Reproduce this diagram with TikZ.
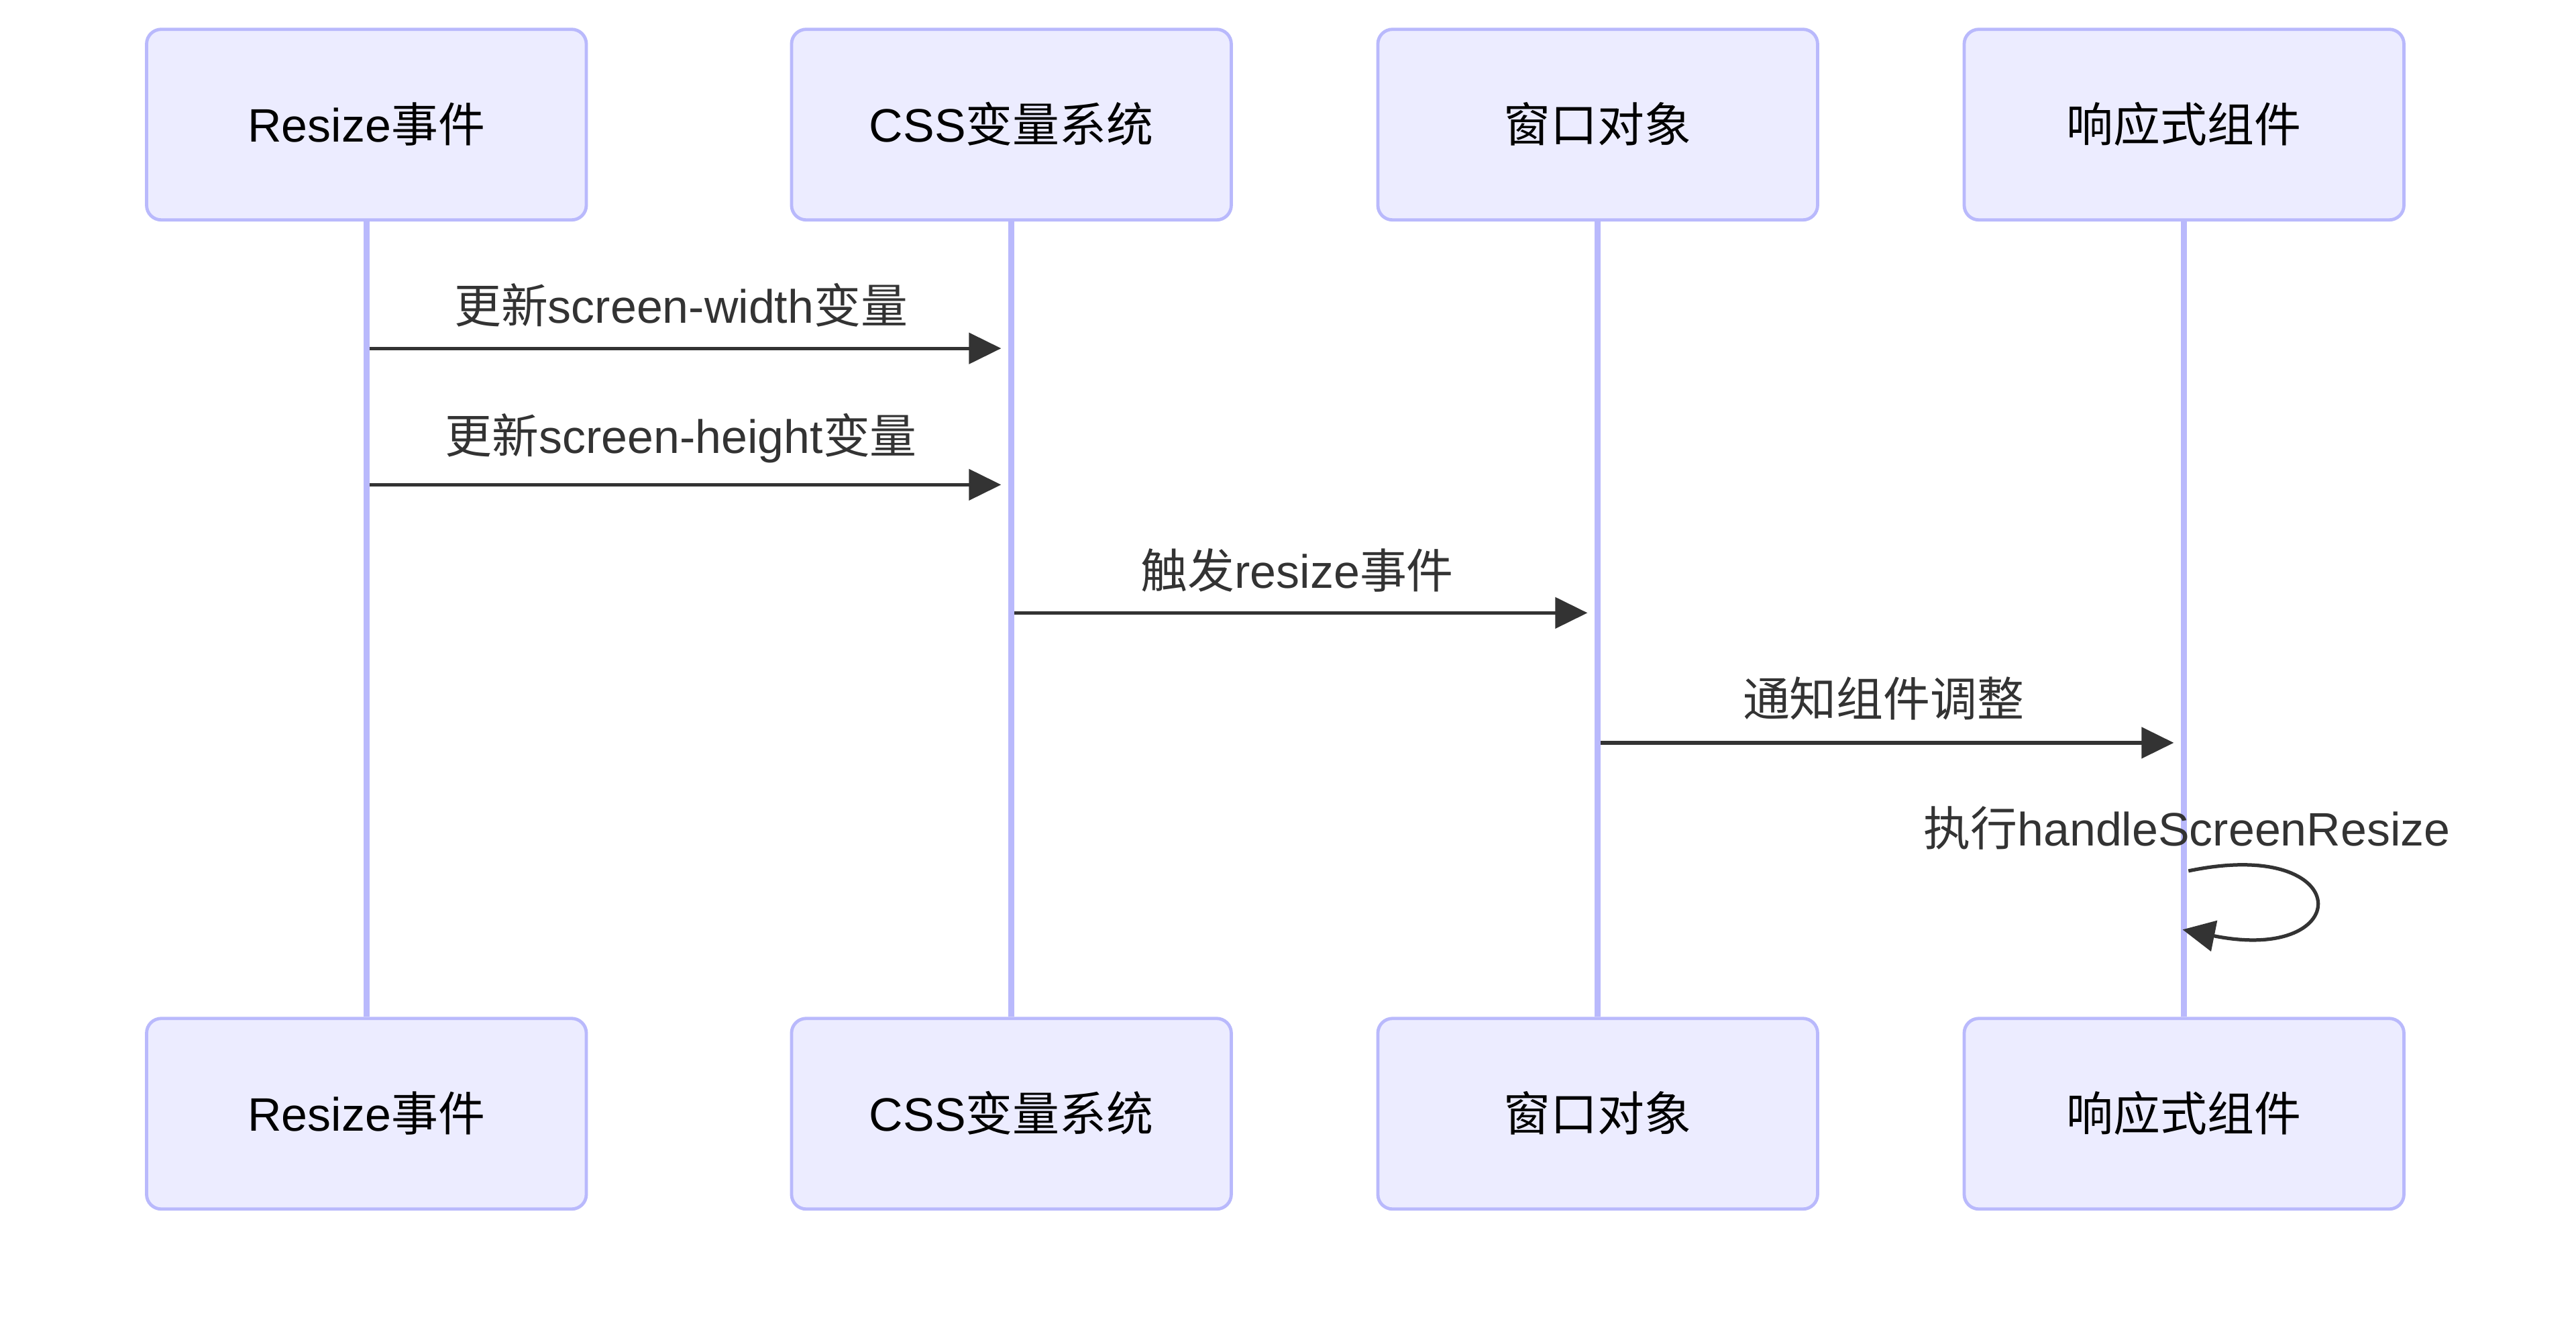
\documentclass[tikz,border=0pt]{standalone}
\usepackage{fontspec}
\setmainfont{Liberation Sans}
\newfontfamily\cjk{Noto Sans CJK SC}
\usetikzlibrary{arrows.meta}
\newcommand{\zh}[1]{{\cjk #1}}
\definecolor{actFill}{HTML}{ECECFF}
\definecolor{actBorder}{HTML}{B9B9FC}
\definecolor{msgCol}{HTML}{333333}
\begin{document}
\begin{tikzpicture}[x=1pt,y=-1pt,
  actor/.style={draw=actBorder, fill=actFill, line width=1.1pt, rounded corners=5pt,
    minimum width=150pt, minimum height=65pt, inner sep=0pt,
    font=\fontsize{16}{19}\selectfont, text=black, text height=12pt, text depth=0pt},
  life/.style={draw=actBorder, line width=2pt},
  msg/.style={draw=msgCol, line width=1.2pt, -{Triangle[length=11pt,width=10.5pt]}},
  lbl/.style={text=msgCol, font=\fontsize{16}{19}\selectfont, inner sep=0pt,
    text height=12pt, text depth=0pt}]
\useasboundingbox[fill=white] (0,0) rectangle (878.7,454.2);

% actors top
\node[actor] (a1) at (125,42.5) {Resize\zh{事件}};
\node[actor] (a2) at (345,42.5) {CSS\zh{变量系统}};
\node[actor] (a3) at (545,42.5) {\zh{窗口对象}};
\node[actor] (a4) at (745,42.5) {\zh{响应式组件}};
% actors bottom
\node[actor] (b1) at (125,379.8) {Resize\zh{事件}};
\node[actor] (b2) at (345,379.8) {CSS\zh{变量系统}};
\node[actor] (b3) at (545,379.8) {\zh{窗口对象}};
\node[actor] (b4) at (745,379.8) {\zh{响应式组件}};

% lifelines
\draw[life] (a1.south) -- (b1.north);
\draw[life] (a2.south) -- (b2.north);
\draw[life] (a3.south) -- (b3.north);
\draw[life] (a4.south) -- (b4.north);

% message end points
\coordinate (m1s) at (126,118.8);  \coordinate (m1e) at (341.5,118.8);
\coordinate (m2s) at (126,165.3);  \coordinate (m2e) at (341.5,165.3);
\coordinate (m3s) at (346,209.0);  \coordinate (m3e) at (541.5,209.0);
\coordinate (m4s) at (546,253.3);  \coordinate (m4e) at (741.5,253.3);
\coordinate (s5s) at (746.5,297.0); \coordinate (s5e) at (744.5,317.0);

% messages
\draw[msg] (m1s) -- (m1e);
\node[lbl] (l1) at (232.3,104.2) {\zh{更新}screen-width\zh{变量}};
\draw[msg] (m2s) -- (m2e);
\node[lbl] (l2) at (232.3,148.5) {\zh{更新}screen-height\zh{变量}};
\draw[msg] (m3s) -- (m3e);
\node[lbl] (l3) at (442.5,194.5) {\zh{触发}resize\zh{事件}};
\draw[msg] (m4s) -- (m4e);
\node[lbl] (l4) at (642.5,238.2) {\zh{通知组件调整}};
\node[lbl] (l5) at (746,282.4) {\zh{执行}handleScreenResize};
\draw[msg] (s5s) .. controls (804,285) and (804,329) .. (s5e);
\end{tikzpicture}
\end{document}
